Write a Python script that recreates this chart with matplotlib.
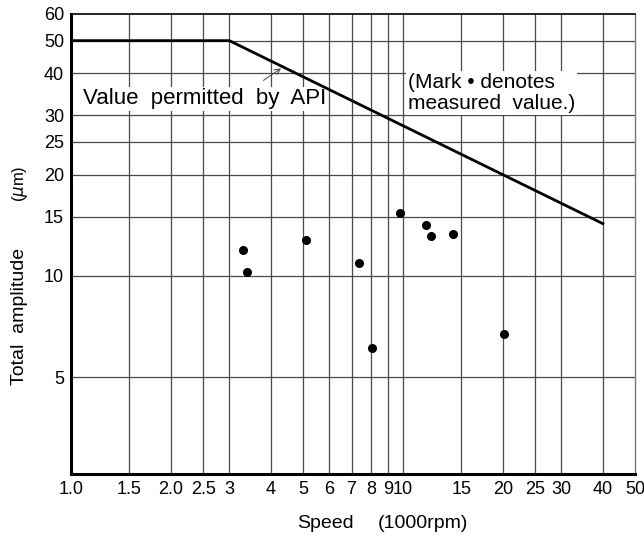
import matplotlib
matplotlib.use("Agg")
import matplotlib.pyplot as plt
from matplotlib.ticker import FixedLocator, FixedFormatter, NullLocator

plt.rcParams['font.family'] = ['Liberation Sans', 'DejaVu Sans']

# API permitted line (speed in 1000 rpm, amplitude in um)
api_speed = [1.0, 3.0, 40.0]
api_amp = [50.0, 50.0, 14.3]

# measured points
meas_speed = [3.30, 3.40, 5.12, 7.39, 8.04, 9.78, 11.73, 12.12, 14.19, 20.2]
meas_amp = [11.95, 10.3, 12.8, 10.93, 6.10, 15.4, 14.2, 13.14, 13.35, 6.71]

xtick_vals = [1.0, 1.5, 2.0, 2.5, 3, 4, 5, 6, 7, 8, 9, 10, 15, 20, 25, 30, 40, 50]
xtick_labels = ["1.0", "1.5", "2.0", "2.5", "3", "4", "5", "6", "7", "8", "9", "10",
                "15", "20", "25", "30", "40", "50"]
ytick_vals = [5, 10, 15, 20, 25, 30, 40, 50, 60]
ytick_labels = ["5", "10", "15", "20", "25", "30", "40", "50", "60"]

fig = plt.figure(figsize=(6.44, 5.38), dpi=100)
ax = fig.add_axes([71/644, 1-474/538, (635-71)/644, (474-14)/538])
ax.set_xscale('log')
ax.set_yscale('log')
ax.set_xlim(1.0, 50)
ax.set_ylim(2.58, 60)

ax.xaxis.set_major_locator(FixedLocator(xtick_vals))
ax.xaxis.set_major_formatter(FixedFormatter(xtick_labels))
ax.xaxis.set_minor_locator(NullLocator())
ax.yaxis.set_major_locator(FixedLocator(ytick_vals))
ax.yaxis.set_major_formatter(FixedFormatter(ytick_labels))
ax.yaxis.set_minor_locator(NullLocator())
ax.tick_params(length=0, labelsize=13, pad=5)

gc = '#4a4a4a'
for xv in xtick_vals[1:-1]:
    ax.axvline(xv, color=gc, lw=0.9, zorder=1)
for yv in ytick_vals[:-1]:
    ax.axhline(yv, color=gc, lw=0.9, zorder=1)

for s in ['left', 'bottom']:
    ax.spines[s].set_linewidth(2.2)
    ax.spines[s].set_color('black')
ax.spines['top'].set_linewidth(1.2)
ax.spines['right'].set_linewidth(1.0)
ax.spines['right'].set_color('#777777')

ax.plot(api_speed, api_amp, color='black', lw=2.0, zorder=3)
ax.plot(meas_speed, meas_amp, 'o', color='black', ms=5.5, zorder=4)

ax.text(1.09, 33.6, "Value  permitted  by  API", fontsize=16, ha='left', va='center',
        bbox=dict(facecolor='white', edgecolor='none', pad=1.0), zorder=2.5)
ax.annotate("", xy=(4.36, 41.8), xytext=(3.74, 37.7),
            arrowprops=dict(arrowstyle='->', color='#444444', lw=0.7), zorder=2.6)
ax.text(10.35, 35.0, "(Mark \u2022 denotes\nmeasured  value.)", fontsize=15,
        ha='left', va='center', linespacing=1.12,
        bbox=dict(facecolor='white', edgecolor='none', pad=1.5), zorder=2.5)

fig.text(297/644, 1-523/538, "Speed", fontsize=14, ha='left', va='center')
fig.text(378/644, 1-523/538, "(1000rpm)", fontsize=14, ha='left', va='center')
fig.text(20/644, 1-316.5/538, "Total  amplitude", fontsize=14, rotation=90,
         ha='center', va='center')
fig.text(20/644, 1-184/538, "($\\mu$m)", fontsize=12, rotation=90,
         ha='center', va='center')

fig.savefig("out.png", dpi=100)
